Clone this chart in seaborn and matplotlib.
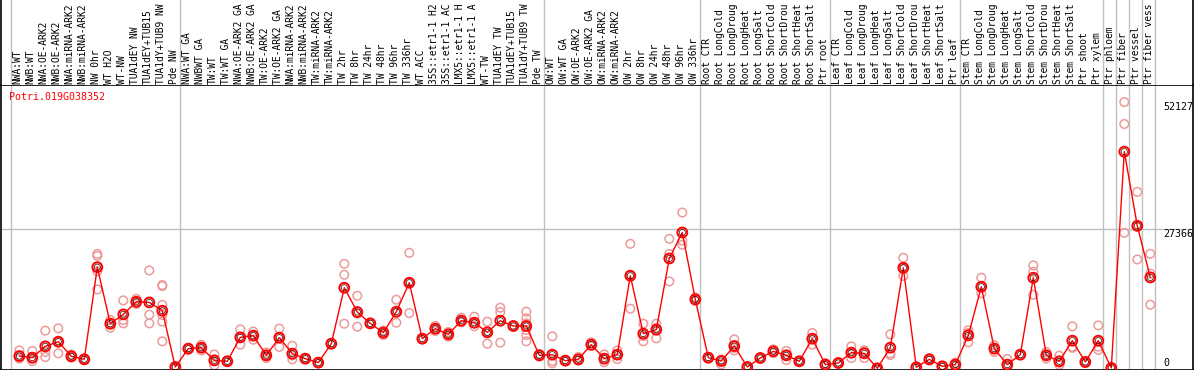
import matplotlib
matplotlib.use("Agg")
import matplotlib.pyplot as plt
import matplotlib.transforms as mtransforms
import numpy as np
import pandas as pd
import seaborn as sns

gene_name = "Potri.019G038352"

# sample labels as they appear (cut to the header height) in the reference
sample_labels = [
    "NWA:WT", "NWB:WT", "NWA:OE-ARK2", "NWB:OE-ARK2", "NWA:miRNA-ARK2", "NWB:miRNA-ARK2",
    "NW 0hr", "WT H2O", "WT-NW", "TUA1dEY NW", "TUA1dEY+TUB15", "TUA1dY+TUB9 NW", "Pde NW",
    "NWA:WT GA", "NWBWT GA", "TW:WT", "TW:WT GA", "NWA:OE-ARK2 GA", "NWB:OE-ARK2 GA",
    "TW:OE-ARK2", "TW:OE-ARK2 GA", "NWA:miRNA-ARK2", "NWB:miRNA-ARK2", "TW:miRNA-ARK2",
    "TW:miRNA-ARK2", "TW 2hr", "TW 8hr", "TW 24hr", "TW 48hr", "TW 96hr", "TW 336hr", "WT ACC",
    "35S::etr1-1 H2", "35S::etr1-1 AC", "LMX5::etr1-1 H", "LMX5::etr1-1 A", "WT-TW",
    "TUA1dEY TW", "TUA1dEY+TUB15", "TUA1dY+TUB9 TW", "Pde TW",
    "OW:WT", "OW:WT GA", "OW:OE-ARK2", "OW:OE-ARK2 GA", "OW:miRNA-ARK2", "OW:miRNA-ARK2",
    "OW 2hr", "OW 8hr", "OW 24hr", "OW 48hr", "OW 96hr", "OW 336hr",
    "Root CTR", "Root LongCold", "Root LongDroug", "Root LongHeat", "Root LongSalt",
    "Root ShortCold", "Root ShortDrou", "Root ShortHeat", "Root ShortSalt", "Ptr root",
    "Leaf CTR", "Leaf LongCold", "Leaf LongDroug", "Leaf LongHeat", "Leaf LongSalt",
    "Leaf ShortCold", "Leaf ShortDrou", "Leaf ShortHeat", "Leaf ShortSalt", "Ptr leaf",
    "Stem CTR", "Stem LongCold", "Stem LongDroug", "Stem LongHeat", "Stem LongSalt",
    "Stem ShortCold", "Stem ShortDrou", "Stem ShortHeat", "Stem ShortSalt", "Ptr shoot",
    "Ptr xylem", "Ptr phloem", "Ptr fiber", "Ptr vessel", "Ptr fiber vess",
]

mean_values = [
    2400, 2090, 4300, 5210, 2350, 1760, 19800, 8730, 10560, 13030, 12900, 11280, 250,
    3850, 4040, 1560, 1370, 6060, 6390, 2540, 6000, 2870, 1890, 1110, 4820, 15770, 11020,
    8800, 6970, 11080, 16750, 5800, 7760, 6650, 9320, 8930, 7040, 9320, 8280, 8280, 2540,
    2670, 1500, 1760, 4630, 1890, 2670, 18120, 6780, 7560, 21500, 26590, 13490,
    2090, 1430, 4370, 260, 2020, 3320, 2540, 1370, 5800, 720,
    1040, 3060, 2930, 0, 4040, 19680, 200, 1760, 390, 720,
    6450, 15970, 3850, 720, 2670, 17730, 2540, 1370, 5410, 1240, 5410,
    70, 42420, 27900, 17790,
]

replicate_values = [
    [3500, 2400, 1900], [3400, 1900, 1400], [7370, 3190, 2210], [7820, 5200, 2930],
    [2700, 2100, 2300], [1900, 1600, 1800], [22400, 22000, 19000, 15440], [9450, 7950, 8800],
    [13290, 9450, 8800], [13600, 12900, 12600], [19160, 10490, 8800],
    [16300, 16100, 12400, 10440, 9130, 5280], [300, 150, 350],
    [3900, 3700, 3950], [4600, 3500, 4000], [2700, 590, 1400], [1500, 1300, 1300],
    [7620, 4630, 5900], [7200, 5600, 6400], [3100, 2000, 2500], [7760, 4170, 6100],
    [4420, 1760, 2500], [1900, 1800, 2000], [1100, 1000, 1200], [4900, 4700, 4800],
    [20460, 18310, 8730], [14200, 8150, 10700], [8900, 8700, 8800], [7400, 6500, 7000],
    [13430, 8930, 10900], [22610, 10820, 16800], [5900, 5700, 5800], [8300, 7300, 7700],
    [7100, 6200, 6600], [9900, 9000, 9100], [10100, 8220, 8800], [9130, 4820, 7200],
    [11870, 11020, 5020], [8400, 8200, 8300], [11080, 9790, 8810, 7500, 6520, 5280],
    [2800, 2300, 2500],
    [6260, 1430, 980], [1600, 1400, 1500], [2200, 1500, 1600], [5100, 4400, 4400],
    [2700, 1200, 1800], [3500, 1800, 2700], [24380, 11670, 18300], [8730, 5280, 6300],
    [8730, 5870, 7900], [25350, 22380, 17010], [30500, 24180, 25000], [13900, 13200, 13400],
    [2200, 1900, 2100], [1700, 780, 1600], [5670, 3500, 4000], [300, 200, 250],
    [2100, 1900, 2000], [3700, 3000, 3200], [3400, 1600, 2600], [1500, 1200, 1400],
    [6910, 4630, 5800], [1000, 500, 650],
    [1100, 950, 1050], [4300, 2000, 2900], [3500, 2000, 3300], [0, 0, 0],
    [6650, 2940, 2600], [21640, 18070, 19500], [250, 150, 200], [2000, 1500, 1800],
    [450, 300, 400], [1100, 500, 600],
    [7430, 5090, 6900], [17730, 14680, 16000], [4500, 3200, 3850], [1820, 320, 300],
    [2700, 2600, 2700], [20140, 18910, 14400], [3200, 1900, 2500], [2470, 650, 1100],
    [8210, 4230, 4000], [1000, 1300, 1400], [8410, 4230, 3580],
    [50, 80, 80], [52127, 47840, 26530], [34540, 21310, 27800], [22420, 18520, 12450],
]

group_starts = [0, 13, 41, 53, 63, 73, 84, 85, 86, 87, 88]
ytick_values = [52127, 27366, 0]
ytick_labels = ["52127", "27366", "0"]

# ---------------------------------------------------------------
W, H, DPI = 1194, 370, 100
sns.set_theme(style="white")
plt.rcParams["font.family"] = ["DejaVu Sans Mono", "DejaVu Sans"]

fig = plt.figure(figsize=(W / DPI, H / DPI), dpi=DPI)

ax_left_px, ax_right_px = 1, 1193
ax_top_px, ax_bot_px = 85, 369.5
ax = fig.add_axes([ax_left_px / W, (H - ax_bot_px) / H,
                   (ax_right_px - ax_left_px) / W, (ax_bot_px - ax_top_px) / H])
hdr = fig.add_axes([ax_left_px / W, (H - ax_top_px) / H,
                    (ax_right_px - ax_left_px) / W, ax_top_px / H])

x0_px, step_px = 19.3, 13.0
xlim = ((ax_left_px - x0_px) / step_px, (ax_right_px - x0_px) / step_px)
zero_px, units_per_px = 368.3, 195.8
ylim = (-(ax_bot_px - zero_px) * units_per_px, (zero_px - ax_top_px) * units_per_px)

n = len(sample_labels)
idx = np.arange(n)
mean_df = pd.DataFrame({"x": idx, "y": mean_values, "label": sample_labels})
rep_df = pd.DataFrame({
    "x": np.concatenate([[i] * len(r) for i, r in enumerate(replicate_values)]),
    "y": np.concatenate(replicate_values),
})

grey = "#c0c0c0"
for a in (ax, hdr):
    a.set_xlim(*xlim)
    for g in group_starts:
        a.axvline(g - 0.66, color=grey, lw=1.0, zorder=0)
ax.axhline(27366, color=grey, lw=1.0, zorder=0)
ax.set_ylim(*ylim)
hdr.set_ylim(0, 1)

# replicates
sns.scatterplot(data=rep_df, x="x", y="y", ax=ax, marker="o", s=38,
                facecolors="none", edgecolor="#ec9a9a", linewidth=1.1, zorder=2,
                legend=False)
# mean line
sns.lineplot(data=mean_df, x="x", y="y", ax=ax, color="red", lw=1.0, zorder=3,
             legend=False)
# mean markers
sns.scatterplot(data=mean_df, x="x", y="y", ax=ax, marker="o", s=50,
                facecolors="none", edgecolor="red", linewidth=1.4, zorder=4,
                legend=False)
sns.scatterplot(data=mean_df, x="x", y="y", ax=ax, marker="o", s=20,
                facecolors="none", edgecolor="#300000", linewidth=0.5, zorder=5,
                legend=False)

for a in (ax, hdr):
    a.set_xticks([])
    a.set_yticks([])
    a.set_xlabel("")
    a.set_ylabel("")
    a.set_facecolor("white")
for s in ax.spines.values():
    s.set_color("black")
    s.set_linewidth(1.2)
    s.set_visible(True)
hdr.spines["top"].set_visible(False)
hdr.spines["bottom"].set_visible(False)
for side in ("left", "right"):
    hdr.spines[side].set_color("black")
    hdr.spines[side].set_linewidth(1.2)
    hdr.spines[side].set_visible(True)

# sample labels at top
trans = mtransforms.blended_transform_factory(hdr.transData, fig.transFigure)
for i, lab in enumerate(sample_labels):
    fig.text(i - 0.12, (H - 83.5) / H, lab, transform=trans, rotation=90,
             ha="center", va="bottom", fontsize=6.9, color="black")

# y value labels
for v, t in zip(ytick_values, ytick_labels):
    ax.text(87.98, v, t, ha="left", va="bottom" if v == 0 else "top",
            fontsize=7.2, color="black")

fig.text(9 / W, (H - 97) / H, gene_name, ha="left", va="center",
         fontsize=7.2, color="red")

fig.savefig("out.png", dpi=DPI)
